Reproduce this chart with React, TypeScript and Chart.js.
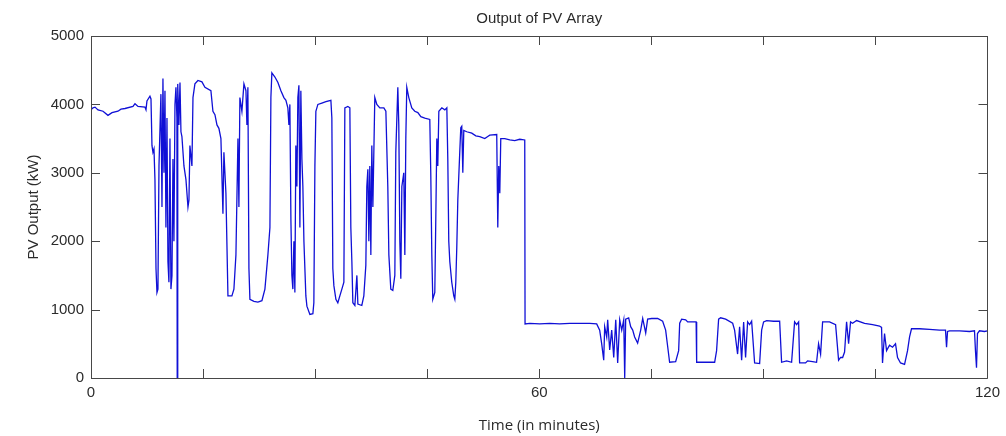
import React, { useEffect, useRef } from "react";
import { Chart, registerables } from "chart.js";

Chart.register(...registerables);

const CHART_TITLE = "Output of PV Array";
const X_TITLE = "Time (in minutes)";
const Y_TITLE = "PV Output (kW)";
const X_LABELED_TICKS = [0, 60, 120];

// time in minutes
const TIME_MIN = [
  0, 0.27, 0.54, 0.94, 1.61, 2.27, 2.81, 3.61, 4.01, 4.55, 5.62, 5.89, 6.29, 7.22, 7.36, 7.49, 7.89, 8.03, 8.16, 8.29,
  8.43, 8.56, 8.7, 8.83, 8.96, 9.1, 9.36, 9.5, 9.63, 9.77, 9.9, 10.03, 10.17, 10.3, 10.43, 10.57, 10.7, 10.84, 10.97, 11.1,
  11.24, 11.37, 11.5, 11.54, 11.58, 11.64, 11.77, 11.91, 12.04, 12.17, 12.44, 12.71, 12.98, 13.11, 13.24, 13.51, 13.65, 13.91, 14.31, 14.85,
  15.25, 16.05, 16.32, 16.59, 16.86, 17.12, 17.39, 17.66, 17.79, 18.06, 18.33, 18.86, 19.13, 19.4, 19.67, 19.8, 19.93, 20.2, 20.47, 20.74,
  20.87, 21.0, 21.14, 21.27, 21.81, 22.34, 22.88, 23.28, 23.68, 23.95, 24.08, 24.21, 24.62, 25.02, 25.42, 25.82, 26.09, 26.35, 26.49, 26.62,
  26.76, 26.89, 27.02, 27.16, 27.29, 27.42, 27.56, 27.69, 27.83, 27.96, 28.09, 28.23, 28.36, 28.5, 28.76, 28.9, 29.3, 29.7, 29.83, 29.97,
  30.1, 30.37, 30.9, 31.44, 32.11, 32.24, 32.37, 32.51, 32.78, 33.04, 33.31, 33.58, 33.85, 33.98, 34.38, 34.65, 34.78, 34.92, 35.05, 35.32,
  35.59, 35.72, 36.25, 36.52, 36.79, 36.92, 37.06, 37.19, 37.32, 37.46, 37.59, 37.73, 37.99, 38.26, 38.66, 39.2, 39.47, 39.73, 39.87, 40.13,
  40.4, 40.67, 40.8, 41.07, 41.2, 41.34, 41.47, 41.61, 41.87, 42.01, 42.14, 42.27, 42.54, 42.94, 43.34, 43.75, 44.15, 44.68, 45.35, 45.48,
  45.62, 45.75, 46.02, 46.15, 46.29, 46.42, 46.56, 46.96, 47.36, 47.63, 47.76, 47.89, 48.03, 48.29, 48.56, 48.7, 48.83, 48.96, 49.1, 49.36,
  49.5, 49.63, 49.77, 49.9, 50.3, 50.97, 51.51, 52.04, 52.71, 53.11, 53.38, 54.31, 54.45, 54.58, 54.72, 54.85, 55.39, 56.06, 56.72, 57.39,
  58.06, 58.1, 58.73, 60.07, 61.41, 62.74, 64.08, 66.76, 67.69, 68.09, 68.36, 68.63, 68.76, 69.03, 69.16, 69.43, 69.7, 69.97, 70.24, 70.5,
  70.77, 71.04, 71.31, 71.44, 71.57, 71.97, 72.24, 72.51, 72.77, 73.17, 73.58, 73.85, 74.25, 74.51, 75.05, 75.85, 76.52, 76.92, 77.19, 77.45,
  78.26, 78.66, 78.8, 79.06, 79.6, 79.87, 81.0, 81.07, 82.14, 83.48, 83.74, 84.01, 84.28, 84.95, 85.89, 86.15, 86.55, 86.82, 87.09, 87.36,
  87.62, 87.89, 88.16, 88.43, 88.83, 89.5, 89.77, 90.03, 90.44, 91.37, 92.18, 92.44, 93.11, 93.78, 94.18, 94.45, 94.72, 94.85, 95.65, 95.92,
  96.59, 97.12, 97.39, 97.66, 97.93, 98.86, 99.67, 100.07, 100.34, 100.61, 100.87, 101.14, 101.41, 101.67, 101.94, 102.48, 103.55, 104.62, 105.55, 105.82,
  105.95, 106.22, 106.49, 106.89, 107.29, 107.69, 107.96, 108.36, 108.9, 109.3, 109.57, 109.83, 110.9, 112.24, 113.58, 114.38, 114.52, 114.65, 114.92, 116.26,
  117.59, 118.26, 118.39, 118.53, 118.66, 118.93, 119.6, 120.0,
];

// PV output in kW
const PV_KW = [
  3920, 3950, 3960, 3920, 3900, 3840, 3880, 3900, 3930, 3940, 3970, 4010, 3970, 3960, 3920, 4050, 4120, 4080, 3400, 3300,
  3350, 2900, 1600, 1250, 1300, 3100, 4150, 2500, 4380, 3000, 4200, 2200, 3800, 1700, 1400, 3500, 1300, 1500, 3200, 2000,
  4000, 4250, 3800, 0, 4200, 4300, 3700, 4320, 3600, 3530, 3100, 2900, 2500, 2600, 3400, 3100, 4100, 4300, 4350, 4330,
  4250, 4200, 3900, 3850, 3700, 3650, 3500, 2400, 3300, 2700, 1200, 1200, 1300, 1800, 3500, 2500, 4100, 3900, 4300, 4200,
  3700, 4250, 1600, 1150, 1120, 1110, 1130, 1300, 1800, 2200, 4100, 4460, 4400, 4320, 4200, 4100, 4060, 3950, 3700, 4000,
  2300, 1500, 1300, 2000, 1250, 3400, 2800, 4100, 4280, 2200, 4200, 3200, 2800, 2000, 1200, 1050, 930, 940, 1100, 3100,
  3900, 4000, 4020, 4040, 4060, 3800, 1600, 1350, 1150, 1100, 1200, 1300, 1400, 3950, 3970, 3950, 2200, 1700, 1100, 1060,
  1500, 1080, 1060, 1200, 1650, 2800, 3050, 2000, 3100, 1800, 3400, 2500, 4100, 4000, 3950, 3950, 3900, 2800, 1800, 1300,
  1280, 1500, 3300, 4250, 3700, 2000, 1450, 2800, 3000, 1800, 3500, 4250, 4100, 3950, 3900, 3880, 3820, 3800, 3780, 3000,
  1800, 1150, 1250, 2300, 3500, 3100, 3900, 3950, 3920, 3950, 3200, 2000, 1700, 1400, 1200, 1150, 1400, 1900, 2600, 3300,
  3660, 3680, 3000, 3620, 3600, 3580, 3540, 3530, 3500, 3530, 3550, 3560, 2200, 3100, 2700, 3500, 3500, 3480, 3470, 3490,
  3480, 790, 800, 790, 800, 790, 800, 800, 790, 700, 500, 260, 750, 600, 850, 410, 700, 300, 850, 220,
  850, 700, 850, 0, 860, 880, 750, 700, 600, 510, 700, 870, 660, 860, 870, 870, 830, 700, 460, 230,
  240, 400, 800, 860, 850, 820, 820, 230, 230, 230, 400, 860, 880, 860, 800, 700, 350, 750, 260, 820,
  300, 820, 780, 830, 220, 210, 700, 820, 840, 830, 830, 230, 250, 230, 820, 780, 820, 220, 220, 250,
  240, 230, 500, 350, 820, 820, 780, 260, 300, 300, 380, 820, 500, 820, 800, 840, 800, 780, 760, 740,
  220, 650, 400, 480, 450, 500, 300, 220, 200, 400, 600, 720, 720, 710, 700, 700, 450, 680, 690, 690,
  680, 690, 400, 150, 650, 690, 680, 690,
];

const X_TICK_STEP = 15;
const Y_TICK_STEP = 1000;

const TEXT_COLOR = "#2b2b2b";
const AXIS_COLOR = "#474747";
const LINE_COLOR = "#1010d6";
const SANS = "'Liberation Sans', Arial, sans-serif";

const framePlugin = {
  id: "matlabFrame",
  afterDraw(chart: any) {
    const { ctx, chartArea } = chart;
    const { left, right, top, bottom } = chartArea;
    const xs = chart.scales.x;
    const ys = chart.scales.y;
    const tickLen = 9;
    ctx.save();
    ctx.strokeStyle = AXIS_COLOR;
    ctx.lineWidth = 1;
    ctx.beginPath();
    ctx.rect(Math.round(left) + 0.5, Math.round(top) + 0.5, Math.round(right - left), Math.round(bottom - top));
    ctx.stroke();
    ctx.beginPath();
    xs.ticks.forEach((t: any) => {
      const px = Math.round(xs.getPixelForValue(t.value)) + 0.5;
      ctx.moveTo(px, bottom);
      ctx.lineTo(px, bottom - tickLen);
      ctx.moveTo(px, top);
      ctx.lineTo(px, top + tickLen);
    });
    ys.ticks.forEach((t: any) => {
      const py = Math.round(ys.getPixelForValue(t.value)) + 0.5;
      ctx.moveTo(left, py);
      ctx.lineTo(left + tickLen, py);
      ctx.moveTo(right, py);
      ctx.lineTo(right - tickLen, py);
    });
    ctx.stroke();
    // chart title centred over the plot area
    ctx.fillStyle = TEXT_COLOR;
    ctx.font = `15px ${SANS}`;
    ctx.textAlign = "center";
    ctx.textBaseline = "middle";
    ctx.fillText(CHART_TITLE, (left + right) / 2, 19);
    ctx.restore();
  },
};

export default function App() {
  const canvasRef = useRef<HTMLCanvasElement | null>(null);

  useEffect(() => {
    const canvas = canvasRef.current;
    if (!canvas) return;
    const points = TIME_MIN.map((t, i) => ({ x: t, y: PV_KW[i] }));
    const chart = new Chart(canvas, {
      type: "line",
      data: {
        datasets: [
          {
            data: points,
            borderColor: LINE_COLOR,
            borderWidth: 1.3,
            pointRadius: 0,
            tension: 0,
            fill: false,
          },
        ],
      },
      options: {
        animation: false,
        responsive: false,
        maintainAspectRatio: false,
        layout: { padding: { left: 0, right: 18, top: 36, bottom: 0 } },
        plugins: {
          legend: { display: false },
          tooltip: { enabled: false },
          title: { display: false },
        },
        scales: {
          x: {
            type: "linear",
            min: 0,
            max: 120,
            ticks: {
              stepSize: X_TICK_STEP,
              autoSkip: false,
              maxRotation: 0,
              padding: 6,
              color: TEXT_COLOR,
              font: { family: SANS, size: 15 },
              callback: (v: any) => (X_LABELED_TICKS.includes(Number(v)) ? String(v) : ""),
            },
            grid: { display: false, drawTicks: false },
            border: { display: false },
            title: {
              display: true,
              text: X_TITLE,
              color: TEXT_COLOR,
              font: { family: "'Open Sans', sans-serif", size: 15 },
              padding: { top: 0, bottom: 1 },
            },
            afterFit: (s: any) => {
              s.height = 58;
            },
          },
          y: {
            min: 0,
            max: 5000,
            ticks: {
              stepSize: Y_TICK_STEP,
              padding: 7,
              color: TEXT_COLOR,
              font: { family: SANS, size: 15 },
              callback: (v: any) => String(v),
            },
            grid: { display: false, drawTicks: false },
            border: { display: false },
            title: {
              display: true,
              text: Y_TITLE,
              color: TEXT_COLOR,
              font: { family: SANS, size: 15 },
              padding: { top: 25, bottom: 0 },
            },
            afterFit: (s: any) => {
              s.width = 91;
            },
          },
        },
      },
      plugins: [framePlugin],
    });
    return () => chart.destroy();
  }, []);

  return (
    <div style={{ position: "fixed", left: 0, top: 0, width: 1006, height: 436, background: "#fff" }}>
      <canvas ref={canvasRef} width={1006} height={436} style={{ display: "block" }} />
    </div>
  );
}
